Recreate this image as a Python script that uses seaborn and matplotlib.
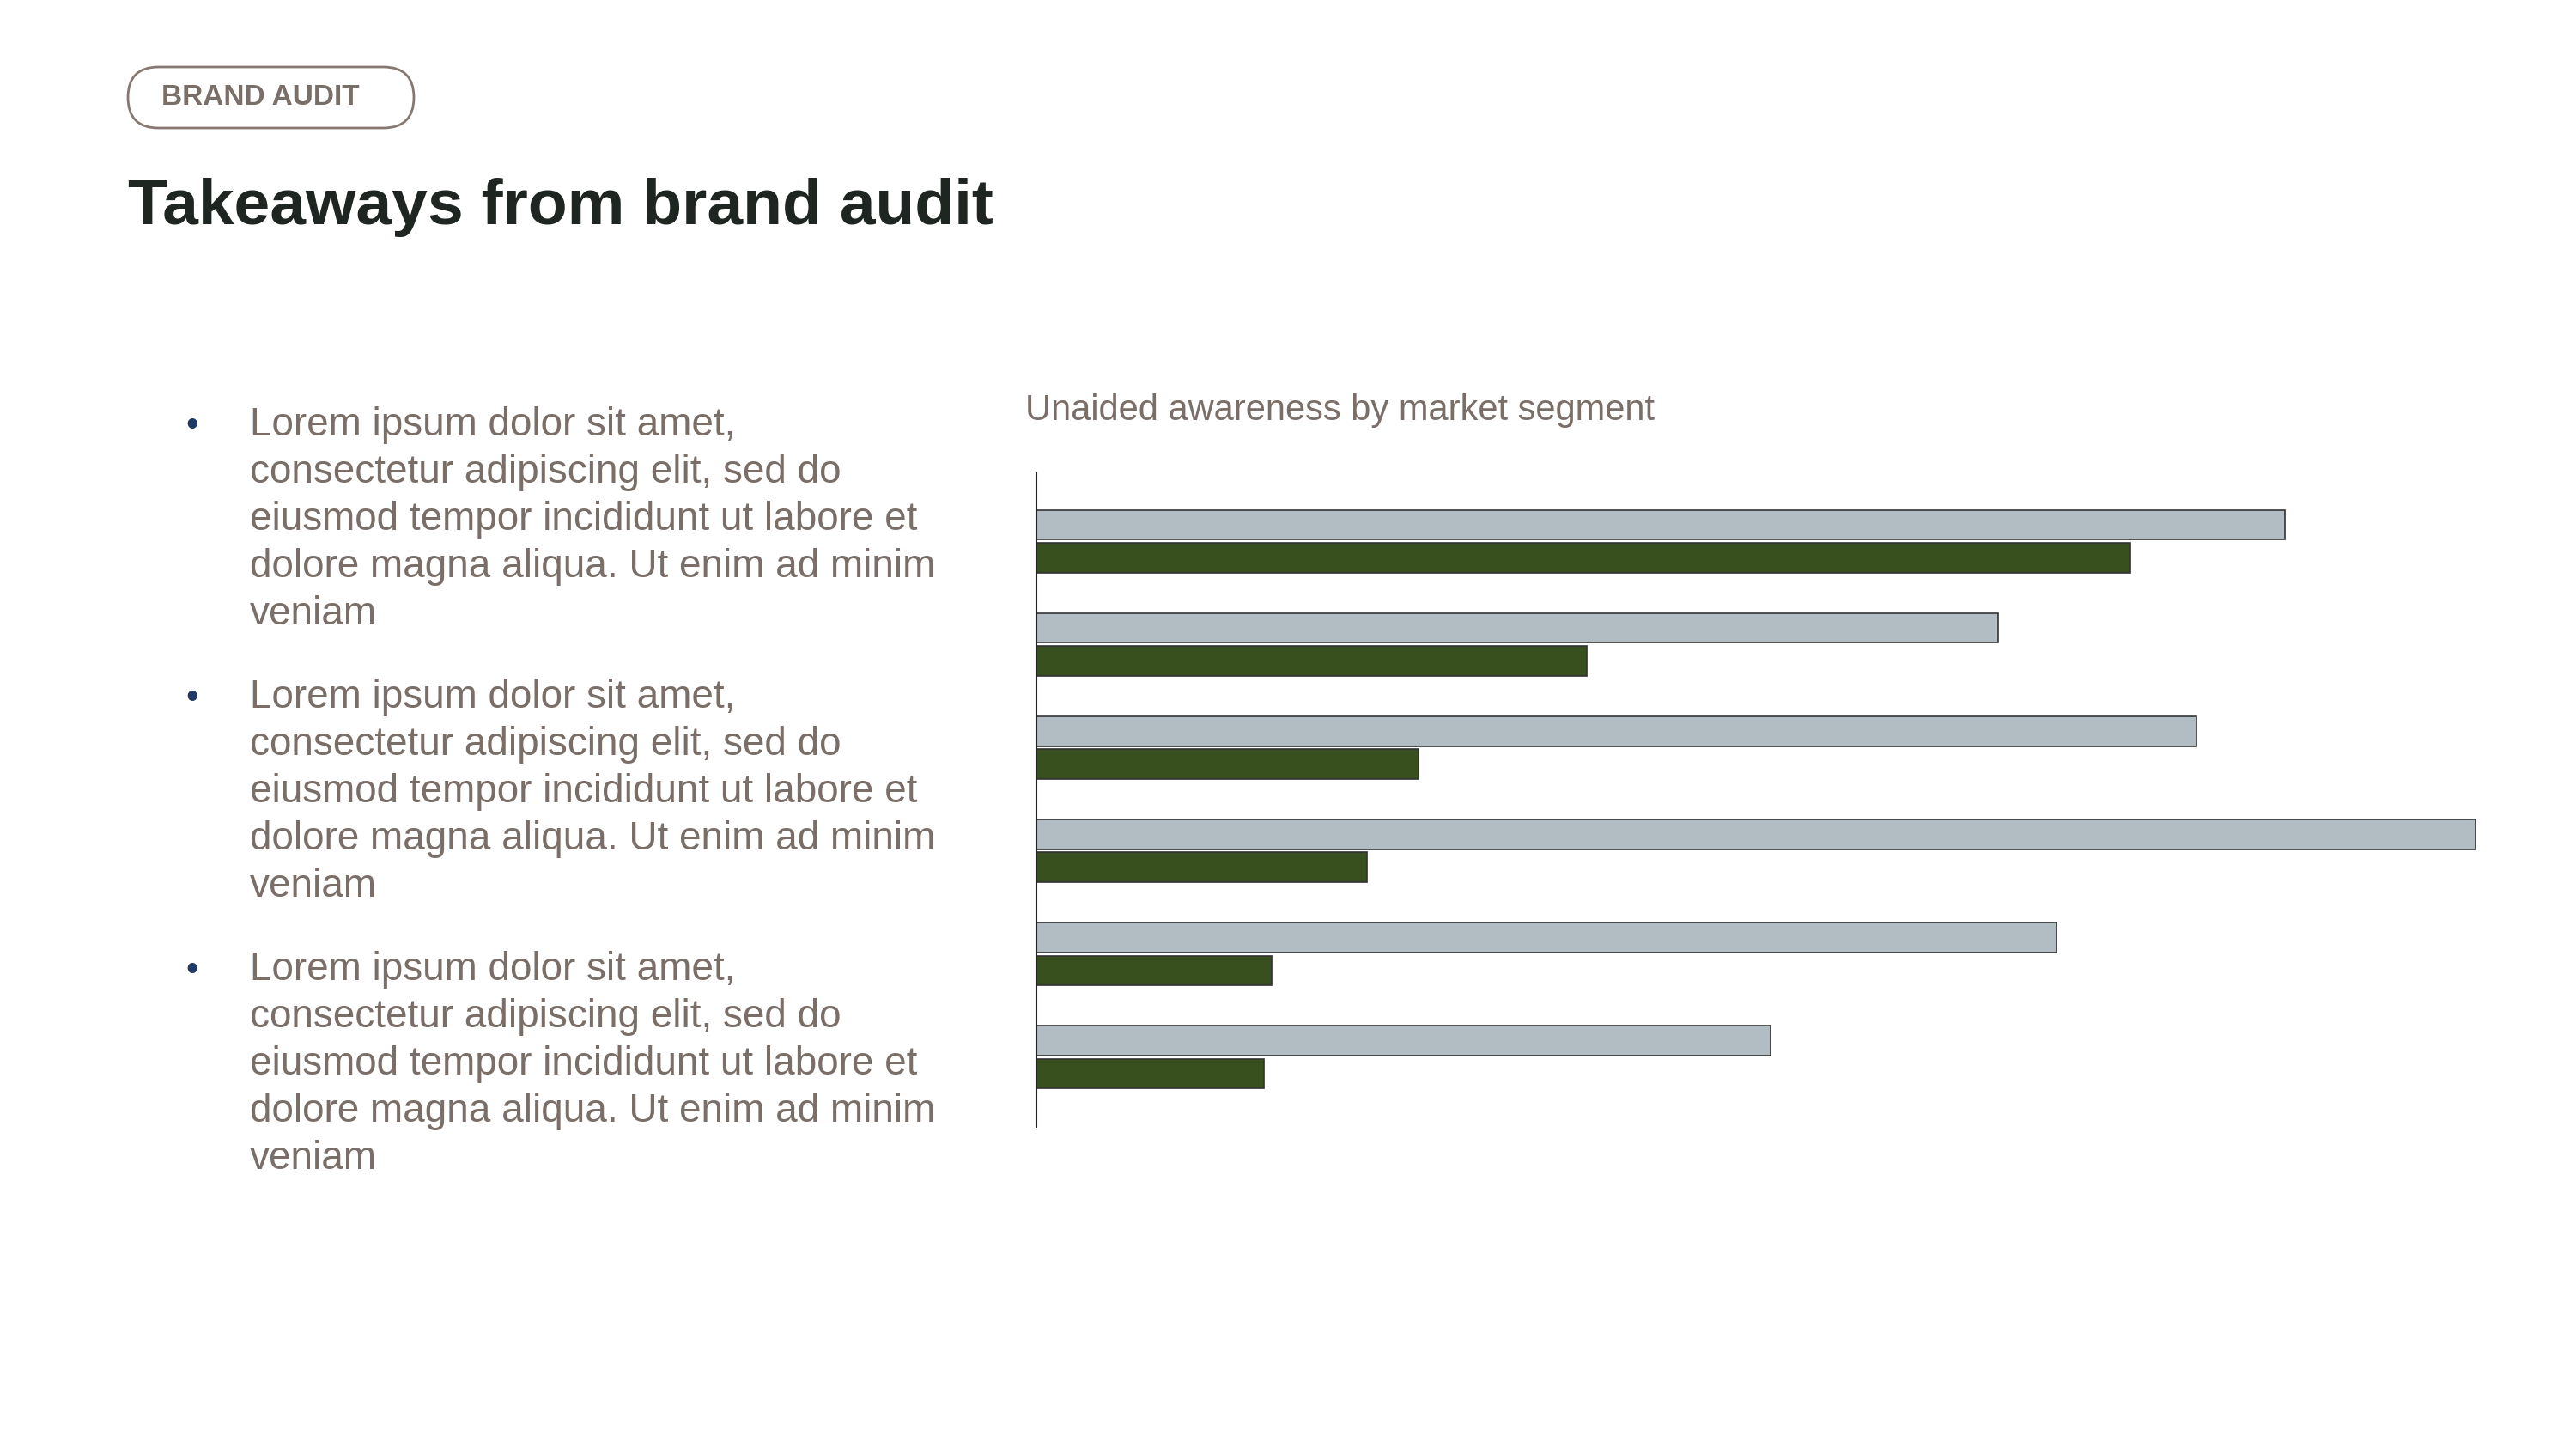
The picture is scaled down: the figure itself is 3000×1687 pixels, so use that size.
import numpy as np
import pandas as pd
import seaborn as sns
import matplotlib.pyplot as plt
from matplotlib.patches import FancyBboxPatch

# data
segments = ['Segment 1', 'Segment 2', 'Segment 3', 'Segment 4', 'Segment 5', 'Segment 6']
series = ['Category', 'Brand']
category_vals = [85, 65.5, 79, 98, 69.5, 50]
brand_vals = [74.5, 37.5, 26, 22.5, 16, 15.5]

badge_label = 'BRAND AUDIT'
title = 'Takeaways from brand audit'
chart_title = 'Unaided awareness by market segment'
bullet_lines = ['Lorem ipsum dolor sit amet,',
                'consectetur adipiscing elit, sed do',
                'eiusmod tempor incididunt ut labore et',
                'dolore magna aliqua. Ut enim ad minim',
                'veniam']
n_bullets = 3

GREY = '#afbdc6'
GREEN = '#395816'
TEXT = '#7a6e69'
DARK = '#1f2622'
NAVY = '#1f3864'

df = pd.DataFrame({
    'segment': segments * 2,
    'series': [series[0]] * len(segments) + [series[1]] * len(segments),
    'value': category_vals + brand_vals,
})

sns.set_style('white')
plt.rcParams['font.family'] = ['Liberation Sans', 'DejaVu Sans']

W, H = 30.0, 16.87
fig = plt.figure(figsize=(W, H), dpi=100)

def fy(px):
    # pixel from top -> inches from bottom
    return (1687 - px) / 100.0

# badge
badge = FancyBboxPatch((1.49, fy(149)), 3.33, 0.71,
                       boxstyle='round,pad=0,rounding_size=0.355',
                       transform=fig.dpi_scale_trans, facecolor='white',
                       edgecolor='#857872', linewidth=2.0)
fig.patches.append(badge)
fig.text(1.88, fy(114), badge_label, transform=fig.dpi_scale_trans,
         fontsize=24, fontweight='bold', color=TEXT, va='center', ha='left')

# title
fig.text(1.49, fy(261), title, transform=fig.dpi_scale_trans,
         fontsize=54, fontweight='bold', color=DARK, va='baseline', ha='left')

# bullets
for b in range(n_bullets):
    base = 507 + b * 317
    fig.text(2.24, fy(base), '\u2022', transform=fig.dpi_scale_trans,
             fontsize=30, color=NAVY, va='baseline', ha='center')
    for i, line in enumerate(bullet_lines):
        fig.text(2.91, fy(base + i * 55), line, transform=fig.dpi_scale_trans,
                 fontsize=33, color=TEXT, va='baseline', ha='left')

# chart title
fig.text(11.94, fy(478), chart_title, transform=fig.dpi_scale_trans,
         fontsize=30, color=TEXT, va='center', ha='left')

# chart
ax = fig.add_axes([1207 / 3000, 375 / 1687, 1710 / 3000, 761 / 1687])
sns.barplot(data=df, y='segment', x='value', hue='series', hue_order=series,
            orient='h', palette=[GREY, GREEN], width=0.638, gap=0.1,
            edgecolor='#333333', linewidth=1.2, legend=False, ax=ax)
ax.set_xlim(0, 100)
ax.set_ylim(5.677, -0.66)
ax.set_xticks([])
ax.set_yticks([])
ax.set_xlabel('')
ax.set_ylabel('')
for s in ['top', 'right', 'bottom']:
    ax.spines[s].set_visible(False)
ax.spines['left'].set_color('#222222')
ax.spines['left'].set_linewidth(1.5)
ax.patch.set_alpha(0)

fig.savefig('out.png', dpi=100, facecolor='white')
